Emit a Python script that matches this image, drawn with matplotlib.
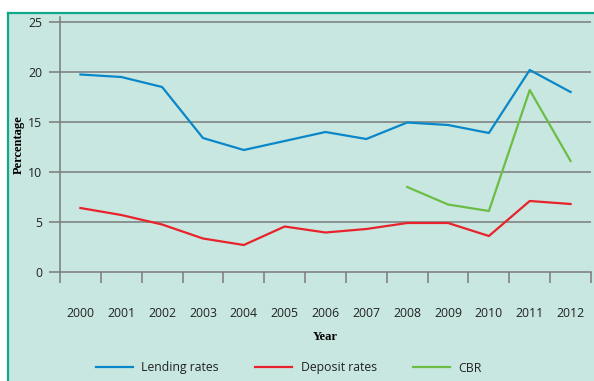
import matplotlib
matplotlib.use("Agg")
import matplotlib.pyplot as plt
from matplotlib.lines import Line2D
from matplotlib.patches import Rectangle

years = ["2000", "2001", "2002", "2003", "2004", "2005", "2006",
         "2007", "2008", "2009", "2010", "2011", "2012"]
lending = [19.75, 19.5, 18.5, 13.4, 12.2, 13.1, 14.0, 13.3, 14.95, 14.7, 13.9, 20.2, 18.0]
deposit = [6.4, 5.7, 4.75, 3.35, 2.7, 4.55, 3.95, 4.3, 4.9, 4.9, 3.6, 7.1, 6.8]
cbr_years = ["2008", "2009", "2010", "2011", "2012"]
cbr = [8.5, 6.75, 6.1, 18.2, 11.1]

bg = "#c8e7e1"
teal = "#12a88a"
grid = "#7a7a7a"

W, H = 594, 381
fig = plt.figure(figsize=(W / 100, H / 100), dpi=100)
fig.patch.set_facecolor("white")

# panel background + teal border on left/top
fig.patches.append(Rectangle((8 / W, 0), 1 - 8 / W, (H - 13) / H,
                             transform=fig.transFigure, facecolor=bg,
                             edgecolor="none", zorder=-2))
fig.lines.append(Line2D([8 / W, 8 / W], [0, (H - 13) / H], transform=fig.transFigure,
                        color=teal, lw=1.6, zorder=-1))
fig.lines.append(Line2D([8 / W, 1], [(H - 13) / H, (H - 13) / H], transform=fig.transFigure,
                        color=teal, lw=1.6, zorder=-1))

ax = fig.add_axes([60 / W, (H - 272) / H, (591 - 60) / W, (272 - 17) / H])
ax.set_facecolor("none")

idx = list(range(len(years)))
cidx = [years.index(y) for y in cbr_years]
ax.plot(idx, lending, color="#0a87c9", lw=1.6, label="Lending rates", zorder=3)
ax.plot(idx, deposit, color="#e8232b", lw=1.6, label="Deposit rates", zorder=3)
ax.plot(cidx, cbr, color="#6cbd45", lw=1.6, label="CBR", zorder=3)

ax.set_xlim(-0.5, 12.5)
ax.set_ylim(0, 25.5)
ax.set_yticks([0, 5, 10, 15, 20, 25])
for v in [5, 10, 15, 20, 25]:
    ax.axhline(v, color=grid, lw=1.1, zorder=1)

ax.set_xticks([i - 0.5 for i in range(len(years) + 1)])
ax.set_xticklabels([])
ax.set_xticks(idx, minor=True)
ax.set_xticklabels(years, minor=True)

ax.tick_params(axis="x", which="major", length=8, width=1.1, color=grid)
ax.tick_params(axis="x", which="minor", length=0, pad=25)
ax.tick_params(axis="y", length=8, width=1.1, color=grid, pad=5)
for lab in ax.get_xticklabels(minor=True) + ax.get_yticklabels():
    lab.set_fontfamily("Open Sans")
    lab.set_fontsize(8.8)
    lab.set_color("#222222")

for s in ["top", "right"]:
    ax.spines[s].set_visible(False)
for s in ["left", "bottom"]:
    ax.spines[s].set_color(grid)
    ax.spines[s].set_linewidth(1.1)

ax.set_xlabel("Year", family="Liberation Serif", weight="bold", size=9, labelpad=8)
ax.set_ylabel("Percentage", family="Liberation Serif", weight="bold", size=9, labelpad=2)

leg = fig.legend(loc="center", bbox_to_anchor=(289 / W, (H - 368) / H), ncol=3,
                 frameon=False, handlelength=3.0, handletextpad=0.7,
                 columnspacing=3.0, prop={"family": "Open Sans", "size": 8.8})
for t in leg.get_texts():
    t.set_color("#222222")

fig.savefig("out.png", dpi=100)
